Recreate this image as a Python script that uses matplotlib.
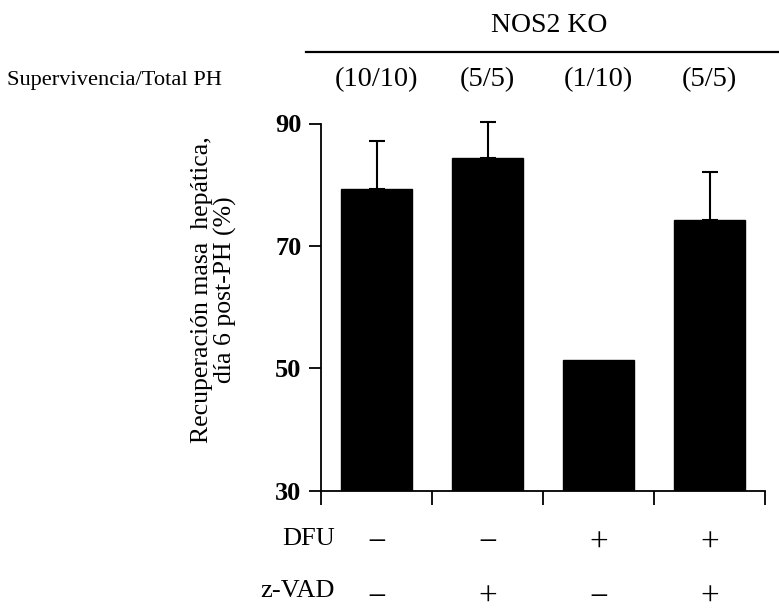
import matplotlib.pyplot as plt
import matplotlib.transforms as mtransforms

# data
groups = [0, 1, 2, 3]
recovery = [79.3, 84.4, 51.4, 74.3]
sem = [7.9, 5.8, 0.0, 7.8]
survival = ["(10/10)", "(5/5)", "(1/10)", "(5/5)"]
dfu = ["\u2212", "\u2212", "+", "+"]
zvad = ["\u2212", "+", "\u2212", "+"]
yticks = [30, 50, 70, 90]

plt.rcParams['font.family'] = ['Liberation Serif', 'DejaVu Serif']

W, H = 779, 608
fig = plt.figure(figsize=(W / 100, H / 100), dpi=100)


def fy(px):
    return 1 - px / H


ax = fig.add_axes([321 / W, fy(490.7), (765 - 321) / W, (490.7 - 123.5) / H])

ax.bar(groups, recovery, width=0.64, color="black", edgecolor="black")
# only upper error bars, bar 3 has none
for x, m, e in zip(groups, recovery, sem):
    if e > 0:
        eb = ax.errorbar(x, m, yerr=[[0], [e]], fmt="none", ecolor="black",
                         elinewidth=1.5, capsize=6, capthick=1.5)
        for art in eb.lines[1] + eb.lines[2]:
            art.set_clip_on(False)

ax.set_xlim(-0.5, 3.5)
ax.set_ylim(30, 90)
ax.set_yticks(yticks)
ax.set_yticklabels([str(t) for t in yticks], fontsize=19, fontweight="bold")
ax.set_xticks([-0.5, 0.5, 1.5, 2.5, 3.5])
ax.set_xticklabels([])
ax.tick_params(axis="y", direction="out", length=9, width=1.3, pad=5)
ax.tick_params(axis="x", direction="out", length=10, width=1.3)
for s in ["top", "right"]:
    ax.spines[s].set_visible(False)
for s in ["left", "bottom"]:
    ax.spines[s].set_linewidth(1.3)

fig.text(214 / W, fy(290), "Recuperación masa  hepática,\ndía 6 post-PH (%)",
         fontsize=18.5, rotation=90, ha="center", va="center", linespacing=1.0,
         multialignment="center")

trans = mtransforms.blended_transform_factory(ax.transData, fig.transFigure)

# header
fig.text(549 / W, fy(25), "NOS2 KO", fontsize=20, ha="center", va="center")
fig.add_artist(plt.Line2D([306 / W, 1.0], [fy(51.5), fy(51.5)], color="black", lw=1.6))
fig.text(222 / W, fy(80), "Supervivencia/Total PH", fontsize=16.1, ha="right", va="center")
for x, s in zip(groups, survival):
    ax.text(x, fy(80), s, transform=trans, fontsize=20.5, ha="center", va="center")

# treatment rows
fig.text(335 / W, fy(539), "DFU", fontsize=19, ha="right", va="center")
fig.text(335 / W, fy(591), "z-VAD", fontsize=19, ha="right", va="center")
for x, a, b in zip(groups, dfu, zvad):
    ax.text(x, fy(543), a, transform=trans, fontsize=24, ha="center", va="center")
    ax.text(x, fy(598), b, transform=trans, fontsize=24, ha="center", va="center")

fig.savefig("out.png", dpi=100)
